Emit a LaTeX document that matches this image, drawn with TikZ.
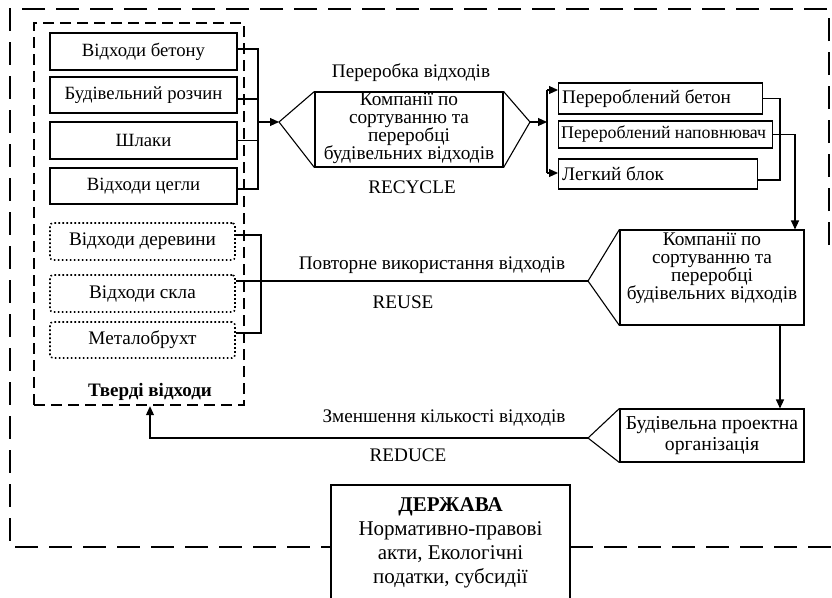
\documentclass[tikz,border=0pt]{standalone}
\usepackage{fontspec}
\setmainfont{Liberation Serif}
\usetikzlibrary{arrows.meta,calc}
\newcommand\fA{\fontsize{18.7}{17}\selectfont}
\newcommand\fE{\fontsize{19.2}{17}\selectfont}
\newcommand\fH{\fontsize{19.3}{18}\selectfont}
\newcommand\fB{\fontsize{19.2}{17}\selectfont}
\newcommand\fR{\fontsize{19.2}{17}\selectfont}
\newcommand\fC{\fontsize{17.8}{17}\selectfont}
\newcommand\fP{\fontsize{19.7}{21.5}\selectfont}
\newcommand\fD{\fontsize{21}{24}\selectfont}
\begin{document}
\begin{tikzpicture}[x=1pt,y=-1pt,
  box/.style={draw, line width=1.1pt, inner sep=0pt, font=\fA, align=center},
  dotbox/.style={draw, line width=1.6pt, dash pattern=on 1.6pt off 2.4pt, rounded corners=3pt, inner sep=0pt, font=\fE},
  lbox/.style={draw, line width=1.1pt, inner sep=0pt, anchor=west},
  ltext/.style={inner sep=0pt, anchor=west, font=\fR},
  conn/.style={line width=1.1pt},
  arr/.style={line width=1.1pt, -{Triangle[length=9pt,width=8pt]}},
  outerdash/.style={line width=2.6pt, dash pattern=on 23pt off 11pt},
  innerdash/.style={line width=2.4pt, dash pattern=on 11pt off 6pt},
  lbl/.style={font=\fB, inner sep=0pt}]
\useasboundingbox (0,0) rectangle (832,597);

% outer border
\draw[outerdash] (829,245) -- (829,9) -- (10,9) -- (10,547) -- (331,547);
\draw[outerdash] (570,547) -- (832,547);

% inner border (solid waste)
\node[innerdash, draw, minimum width=210pt, minimum height=382pt, inner sep=0pt] (solid) at (139,214) {};
\node[font=\fontsize{19}{17}\selectfont\bfseries, inner sep=0pt] (solidlbl) at (150,392) {Тверді відходи};

% left boxes
\node[box, minimum width=187pt, minimum height=37pt] (b1) at (143.5,51.5) {Відходи бетону};
\node[box, minimum width=187pt, minimum height=36pt] (b2) at (143.5,95) {Будівельний розчин};
\node[box, minimum width=187pt, minimum height=37pt] (b3) at (143.5,140.5) {Шлаки};
\node[box, minimum width=187pt, minimum height=36pt] (b4) at (143.5,186) {Відходи цегли};

\node[dotbox, minimum width=185pt, minimum height=37pt] (d1) at (142.5,241.5) {Відходи деревини};
\node[dotbox, minimum width=185pt, minimum height=37pt] (d2) at (142.5,293.5) {Відходи скла};
\node[dotbox, minimum width=185pt, minimum height=36pt] (d3) at (142.5,340) {Металобрухт};

% recycle hexagon
\node[box, minimum width=188pt, minimum height=75pt] (h1) at (409,129.5) {};
\node[font=\fH, align=center, inner sep=0pt] (h1t) at (409,128.5) {Компанії по\\сортуванню та\\переробці\\будівельних відходів};
\coordinate (h1l) at (279,122);
\coordinate (h1r) at (530,122);
\draw[conn] (h1.north west) -- (h1l) -- (h1.south west);
\draw[conn] (h1.north east) -- (h1r) -- (h1.south east);
\node[lbl] (rc1) at (411,73) {Переробка відходів};
\node[lbl] (rc2) at (412,187) {RECYCLE};

% recycled products
\node[lbox, minimum width=204pt, minimum height=31pt] (r1) at (558,98.5) {};
\node[ltext] (r1t) at (562,98.5) {Перероблений бетон};
\node[lbox, minimum width=214pt, minimum height=27pt] (r2) at (558,134.5) {};
\node[ltext, font=\fC] (r2t) at (561,134.5) {Перероблений наповнювач};
\node[lbox, minimum width=199pt, minimum height=30pt] (r3) at (558,174) {};
\node[ltext] (r3t) at (562,174) {Легкий блок};

% reuse box
\node[draw, line width=1.1pt, minimum width=184pt, minimum height=95pt, inner sep=0pt] (h2) at (712,277.5) {};
\node[font=\fH, align=center, inner sep=0pt] (h2t) at (712,268) {Компанії по\\сортуванню та\\переробці\\будівельних відходів};
\coordinate (h2l) at (588,281);
\draw[conn] (h2.north west) -- (h2l) -- (h2.south west);
\node[lbl] (ru1) at (432,265) {Повторне використання відходів};
\node[lbl] (ru2) at (403,302) {REUSE};

% design organisation
\node[box, font=\fP, minimum width=184pt, minimum height=53pt] (p) at (712,435.5) {Будівельна проектна\\організація};
\coordinate (pl) at (588,438);
\draw[conn] (p.north west) -- (pl) -- (p.south west);
\node[lbl] (rd1) at (444,418) {Зменшення кількості відходів};
\node[lbl] (rd2) at (408,455) {REDUCE};

% state box
\node[draw, line width=1.1pt, fill=white, minimum width=239pt, minimum height=140pt, inner sep=0pt] (g) at (450.5,555) {};
\node[font=\fD, align=center, inner sep=0pt] (gt) at (450.5,543) {\textbf{ДЕРЖАВА}\\Нормативно-правові\\акти, Екологічні\\податки, субсидії};

% bracket A (left solid boxes -> recycle)
\coordinate (brA) at (258,122);
\coordinate (b1p) at ([yshift=2.5pt]b1.east);
\coordinate (b2p) at ([yshift=-4pt]b2.east);
\coordinate (b3p) at (b3.east);
\coordinate (b4p) at ([yshift=-3pt]b4.east);
\draw[conn] (b1p) -- (b1p -| brA) -- (b4p -| brA) -- (b4p);
\draw[conn] (b2p) -- (b2p -| brA);
\draw[conn] (b3p) -- (b3p -| brA);
\draw[arr] (brA) -- (h1l);

% bracket B (recycle -> products)
\coordinate (brB) at (547,122);
\coordinate (r1a) at ([yshift=8.5pt]r1.west);
\coordinate (r3a) at ([yshift=1pt]r3.west);
\draw[arr] (h1r) -- (brB);
\draw[conn] (r1a -| brB) -- (r3a -| brB);
\draw[arr] (r1a -| brB) -- (r1a);
\draw[arr] (r3a -| brB) -- (r3a);

% bracket C (products)
\coordinate (brC) at (780,0);
\coordinate (r1b) at (r1.east);
\coordinate (r3b) at ([yshift=-6pt]r3.east);
\draw[conn] (r1b) -- (r1b -| brC) -- (r3b -| brC) -- (r3b);

% filler -> reuse box
\coordinate (brD) at (795,0);
\draw[arr] (r2.east) -- (r2.east -| brD) -- (brD |- h2.north);

% reuse box -> design organisation
\coordinate (brE) at (780,0);
\draw[arr] (brE |- h2.south) -- (brE |- p.north);

% reduce
\coordinate (tv) at (150,0);
\draw[arr] (pl) -- (pl -| tv) -- (tv |- solid.south);

% bracket D (dotted boxes) and reuse line
\coordinate (brF) at (261,0);
\coordinate (d1p) at ([yshift=6.5pt]d1.east);
\coordinate (d2p) at ([yshift=12.5pt]d2.east);
\coordinate (d3p) at ([yshift=7pt]d3.east);
\draw[conn] (d1p) -- (d1p -| brF) -- (d3p -| brF) -- (d3p);
\draw[conn] (d2p) -- (h2l);
\end{tikzpicture}
\end{document}
